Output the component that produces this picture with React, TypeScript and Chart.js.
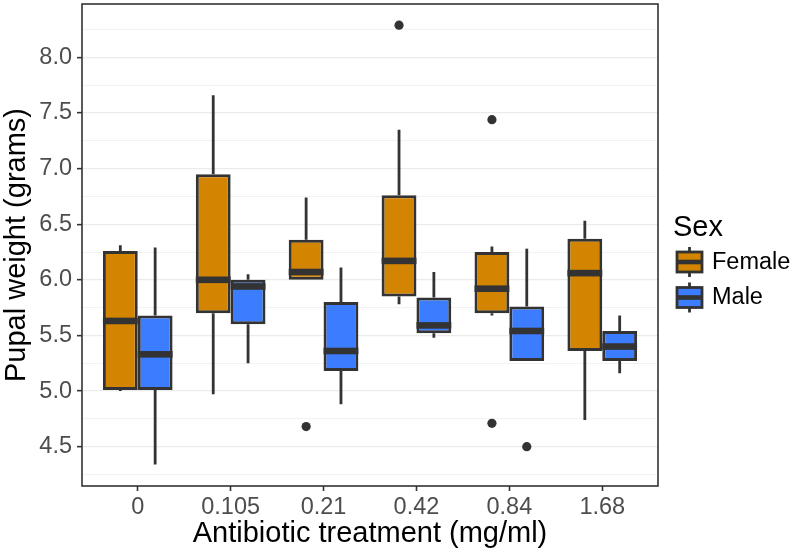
import React, { useEffect, useRef } from "react";
import { Chart, registerables } from "chart.js";

Chart.register(...registerables);

// ---------- data ----------
const categories = ["0", "0.105", "0.21", "0.42", "0.84", "1.68"];
const seriesNames = ["Female", "Male"];

const femaleMin = [5.0, 4.97, 6.0, 5.78, 5.68, 4.74];
const femaleQ1 = [5.01, 5.7, 6.0, 5.85, 5.7, 5.36];
const femaleMedian = [5.63, 6.0, 6.07, 6.17, 5.92, 6.06];
const femaleQ3 = [6.26, 6.95, 6.36, 6.76, 6.25, 6.37];
const femaleMax = [6.31, 7.66, 6.74, 7.35, 6.3, 6.53];
const femaleOutliers = [[], [], [4.68], [8.29], [7.44, 4.71], []];

const maleMin = [4.34, 5.25, 4.88, 5.48, 5.27, 5.16];
const maleQ1 = [5.01, 5.6, 5.18, 5.52, 5.27, 5.27];
const maleMedian = [5.33, 5.94, 5.36, 5.59, 5.54, 5.4];
const maleQ3 = [5.68, 6.0, 5.8, 5.84, 5.76, 5.54];
const maleMax = [6.29, 6.05, 6.11, 6.07, 6.28, 5.68];
const maleOutliers = [[], [], [], [], [4.5], []];

const yMajorTicks = [4.5, 5.0, 5.5, 6.0, 6.5, 7.0, 7.5, 8.0];
const yMinorTicks = [4.25, 4.75, 5.25, 5.75, 6.25, 6.75, 7.25, 7.75, 8.25];

const legendTitle = "Sex";
const xTitle = "Antibiotic treatment (mg/ml)";
const yTitle = "Pupal weight (grams)";

// ---------- styles ----------
const FONT = '"Liberation Sans", Arial, Helvetica, sans-serif';
const fillColors = ["#D38400", "#3C7DFF"];
const dark = "#333333";

const stats = [
  { min: femaleMin, q1: femaleQ1, med: femaleMedian, q3: femaleQ3, max: femaleMax, out: femaleOutliers },
  { min: maleMin, q1: maleQ1, med: maleMedian, q3: maleQ3, max: maleMax, out: maleOutliers },
];

const boxPlugin = {
  id: "boxExtras",
  beforeDatasetsDraw(chart: any) {
    const ctx = chart.ctx;
    const ys = chart.scales.y;
    ctx.save();
    ctx.strokeStyle = dark;
    ctx.lineWidth = 2.8;
    ctx.lineCap = "butt";
    stats.forEach((s, di) => {
      const meta = chart.getDatasetMeta(di);
      meta.data.forEach((bar: any, i: number) => {
        const x = bar.x;
        ctx.beginPath();
        ctx.moveTo(x, ys.getPixelForValue(s.max[i]));
        ctx.lineTo(x, ys.getPixelForValue(s.q3[i]));
        ctx.moveTo(x, ys.getPixelForValue(s.q1[i]));
        ctx.lineTo(x, ys.getPixelForValue(s.min[i]));
        ctx.stroke();
      });
    });
    ctx.restore();
  },
  afterDatasetsDraw(chart: any) {
    const ctx = chart.ctx;
    const ys = chart.scales.y;
    ctx.save();
    ctx.fillStyle = dark;
    stats.forEach((s, di) => {
      const meta = chart.getDatasetMeta(di);
      meta.data.forEach((bar: any, i: number) => {
        const x = bar.x;
        const w = bar.width;
        const ym = ys.getPixelForValue(s.med[i]);
        ctx.fillRect(x - w / 2, ym - 3.3, w, 6.6);
        s.out[i].forEach((v: number) => {
          ctx.beginPath();
          ctx.arc(x, ys.getPixelForValue(v), 4.6, 0, Math.PI * 2);
          ctx.fill();
        });
      });
    });
    ctx.restore();
  },
  afterDraw(chart: any) {
    const ctx = chart.ctx;
    const a = chart.chartArea;
    ctx.save();
    // panel border
    ctx.strokeStyle = dark;
    ctx.lineWidth = 1.6;
    ctx.strokeRect(a.left, a.top, a.right - a.left, a.bottom - a.top);

    // legend
    const lx = a.right + 15;
    ctx.fillStyle = "#000";
    ctx.font = `29px ${FONT}`;
    ctx.textBaseline = "alphabetic";
    ctx.textAlign = "left";
    ctx.fillText(legendTitle, lx, 236);
    seriesNames.forEach((name, i) => {
      const cy = 262 + i * 35.5;
      const bx = lx + 4;
      const bw = 25;
      const cx = bx + bw / 2;
      ctx.strokeStyle = dark;
      ctx.lineWidth = 2.8;
      ctx.beginPath();
      ctx.moveTo(cx, cy - 15);
      ctx.lineTo(cx, cy + 15);
      ctx.stroke();
      ctx.fillStyle = fillColors[i];
      ctx.fillRect(bx, cy - 10, bw, 20);
      ctx.strokeRect(bx, cy - 10, bw, 20);
      ctx.fillStyle = dark;
      ctx.fillRect(bx, cy - 2.3, bw, 4.6);
      ctx.fillStyle = "#000";
      ctx.font = `23.5px ${FONT}`;
      ctx.textBaseline = "middle";
      ctx.fillText(name, lx + 39, cy + 0.5);
    });
    ctx.restore();
  },
};

export default function App() {
  const ref = useRef<HTMLCanvasElement | null>(null);

  useEffect(() => {
    if (!ref.current) return;
    const datasets = stats.map((s, di) => ({
      label: seriesNames[di],
      data: s.q1.map((q1, i) => ({ x: i + 1, y: [q1, s.q3[i]] })),
      backgroundColor: fillColors[di],
      borderColor: dark,
      borderWidth: 3,
      borderSkipped: false,
      categoryPercentage: 0.75,
      barPercentage: 1.0,
    }));

    const chart = new Chart(ref.current, {
      type: "bar",
      data: { datasets } as any,
      options: {
        animation: false,
        responsive: false,
        maintainAspectRatio: false,
        layout: { padding: { top: 4, right: 135, bottom: 0, left: 0 } },
        plugins: { legend: { display: false }, tooltip: { enabled: false } },
        scales: {
          x: {
            type: "linear",
            min: 0.4,
            max: 6.6,
            offset: false,
            afterBuildTicks: (scale: any) => {
              scale.ticks = categories.map((_, i) => ({ value: i + 1 }));
            },
            afterFit: (scale: any) => {
              scale.height = 67;
              scale.paddingLeft = 0;
              scale.paddingRight = 0;
            },
            ticks: {
              autoSkip: false,
              maxRotation: 0,
              color: "#4D4D4D",
              font: { size: 23.5, family: FONT },
              padding: 2,
              callback: (v: any) => categories[Math.round(v) - 1] ?? "",
            },
            grid: {
              display: true,
              offset: false,
              drawOnChartArea: false,
              drawTicks: true,
              tickLength: 5,
              tickColor: dark,
              tickWidth: 1.6,
            },
            border: { display: false },
            title: {
              display: true,
              text: xTitle,
              color: "#000",
              font: { size: 29, family: FONT },
              padding: { top: 0, bottom: 2 },
            },
          },
          y: {
            type: "linear",
            min: 4.146,
            max: 8.48,
            beginAtZero: false,
            afterBuildTicks: (scale: any) => {
              const all = [...yMajorTicks, ...yMinorTicks].sort((a, b) => a - b);
              scale.ticks = all.map((v) => ({ value: v }));
            },
            afterFit: (scale: any) => {
              scale.width = 82;
              scale.paddingTop = 0;
              scale.paddingBottom = 0;
            },
            ticks: {
              autoSkip: false,
              color: "#4D4D4D",
              font: { size: 23.5, family: FONT },
              padding: 5,
              callback: (v: any) => (yMajorTicks.includes(v) ? Number(v).toFixed(1) : ""),
            },
            grid: {
              display: true,
              drawTicks: true,
              tickLength: 5,
              color: (c: any) => (yMajorTicks.includes(c.tick?.value) ? "#EBEBEB" : "#F2F2F2"),
              lineWidth: (c: any) => (yMajorTicks.includes(c.tick?.value) ? 1.3 : 1),
              tickColor: (c: any) => (yMajorTicks.includes(c.tick?.value) ? dark : "rgba(0,0,0,0)"),
              tickWidth: 1.6,
            },
            border: { display: false },
            title: {
              display: true,
              text: yTitle,
              color: "#000",
              font: { size: 29, family: FONT },
              padding: { top: 0, bottom: 0 },
            },
          },
        },
      } as any,
      plugins: [boxPlugin],
    });
    return () => chart.destroy();
  }, []);

  return (
    <div style={{ position: "absolute", left: 0, top: 0, width: 793, height: 553, background: "#fff" }}>
      <canvas ref={ref} width={793} height={553} style={{ display: "block", width: 793, height: 553 }} />
    </div>
  );
}
